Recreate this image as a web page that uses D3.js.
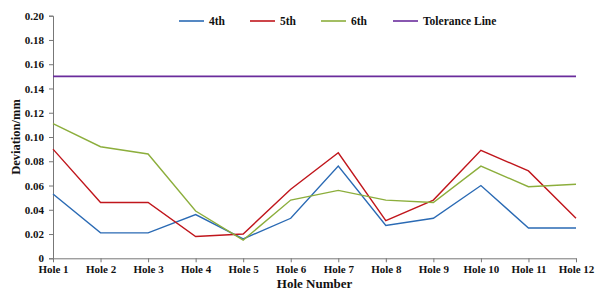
<!DOCTYPE html>
<html lang="en">
    <head>
        <meta charset="utf-8" />
        <title>Hole deviation</title>
        <script src="https://cdn.jsdelivr.net/npm/d3@7/dist/d3.min.js"></script>
        <style>
            body { margin: 0; background: #fff; }
            text { font-family: "Liberation Serif", "Times New Roman", serif; font-weight: bold; }
        </style>
    </head>
    <body>
        <svg width="600" height="294"></svg>

        <script>
            var holes = ['Hole 1', 'Hole 2', 'Hole 3', 'Hole 4', 'Hole 5', 'Hole 6',
                         'Hole 7', 'Hole 8', 'Hole 9', 'Hole 10', 'Hole 11', 'Hole 12'];
            var fourth = [0.053, 0.021, 0.021, 0.036, 0.016, 0.033, 0.076, 0.027, 0.033, 0.060, 0.025, 0.025];
            var fifth  = [0.090, 0.046, 0.046, 0.018, 0.020, 0.057, 0.087, 0.031, 0.048, 0.089, 0.072, 0.033];
            var sixth  = [0.111, 0.092, 0.086, 0.039, 0.015, 0.048, 0.056, 0.048, 0.046, 0.076, 0.059, 0.061];
            var tolerance = 0.15;
            var yTicks = [0, 0.02, 0.04, 0.06, 0.08, 0.10, 0.12, 0.14, 0.16, 0.18, 0.20];

            var series = [
                { name: '4th', values: fourth, color: '#2a6ab4' },
                { name: '5th', values: fifth, color: '#c0161c' },
                { name: '6th', values: sixth, color: '#8cae3c' }
            ];

            var svg = d3.select('svg');
            var mLeft = 53, mRight = 576, mTop = 15.7, mBottom = 258.3;

            var x = d3.scalePoint().domain(holes).range([mLeft, mRight]).padding(0);
            var y = d3.scaleLinear().domain([0, 0.2]).range([mBottom, mTop]);

            // y axis
            var yAxis = svg.append('g')
                .attr('transform', 'translate(' + mLeft + ',0)')
                .call(d3.axisLeft(y).tickValues(yTicks).tickSize(4).tickPadding(5)
                    .tickFormat(function(d) { return d === 0 ? '0' : d.toFixed(2); }));

            // x axis
            var xAxis = svg.append('g')
                .attr('transform', 'translate(0,' + mBottom + ')')
                .call(d3.axisBottom(x).tickSize(4).tickPadding(3).tickSizeOuter(0));

            [yAxis, xAxis].forEach(function(a) {
                a.select('.domain').attr('stroke', '#777');
                a.selectAll('.tick line').attr('stroke', '#777');
                a.selectAll('.tick text').attr('fill', '#111').style('font-size', '11px');
            });

            // tolerance line
            svg.append('line')
                .attr('x1', mLeft).attr('x2', mRight)
                .attr('y1', y(tolerance)).attr('y2', y(tolerance))
                .attr('stroke', '#6a2c9c').attr('stroke-width', 1.6);

            var line = d3.line()
                .x(function(d, i) { return x(holes[i]); })
                .y(function(d) { return y(d); });

            series.forEach(function(s) {
                svg.append('path')
                    .datum(s.values)
                    .attr('fill', 'none')
                    .attr('stroke', s.color)
                    .attr('stroke-width', 1.4)
                    .attr('d', line);
            });

            // legend
            var legendItems = series.map(function(s) { return { name: s.name, color: s.color }; })
                .concat([{ name: 'Tolerance Line', color: '#6a2c9c' }]);
            var legendX = [179, 250, 321, 393];
            var lg = svg.selectAll('.legend').data(legendItems).enter().append('g')
                .attr('transform', function(d, i) { return 'translate(' + legendX[i] + ',21)'; });
            lg.append('line').attr('x1', 0).attr('x2', 25)
                .attr('stroke', function(d) { return d.color; }).attr('stroke-width', 1.6);
            lg.append('text').attr('x', 30).attr('y', 4)
                .style('font-size', '11.5px').attr('fill', '#111')
                .text(function(d) { return d.name; });

            // axis titles
            svg.append('text')
                .attr('x', (mLeft + mRight) / 2).attr('y', 288)
                .attr('text-anchor', 'middle').style('font-size', '13px').attr('fill', '#111')
                .text('Hole Number');
            svg.append('text')
                .attr('transform', 'translate(20,' + ((mTop + mBottom) / 2) + ') rotate(-90)')
                .attr('text-anchor', 'middle').style('font-size', '12.5px').attr('fill', '#111')
                .text('Deviation/mm');
        </script>
    </body>
</html>
